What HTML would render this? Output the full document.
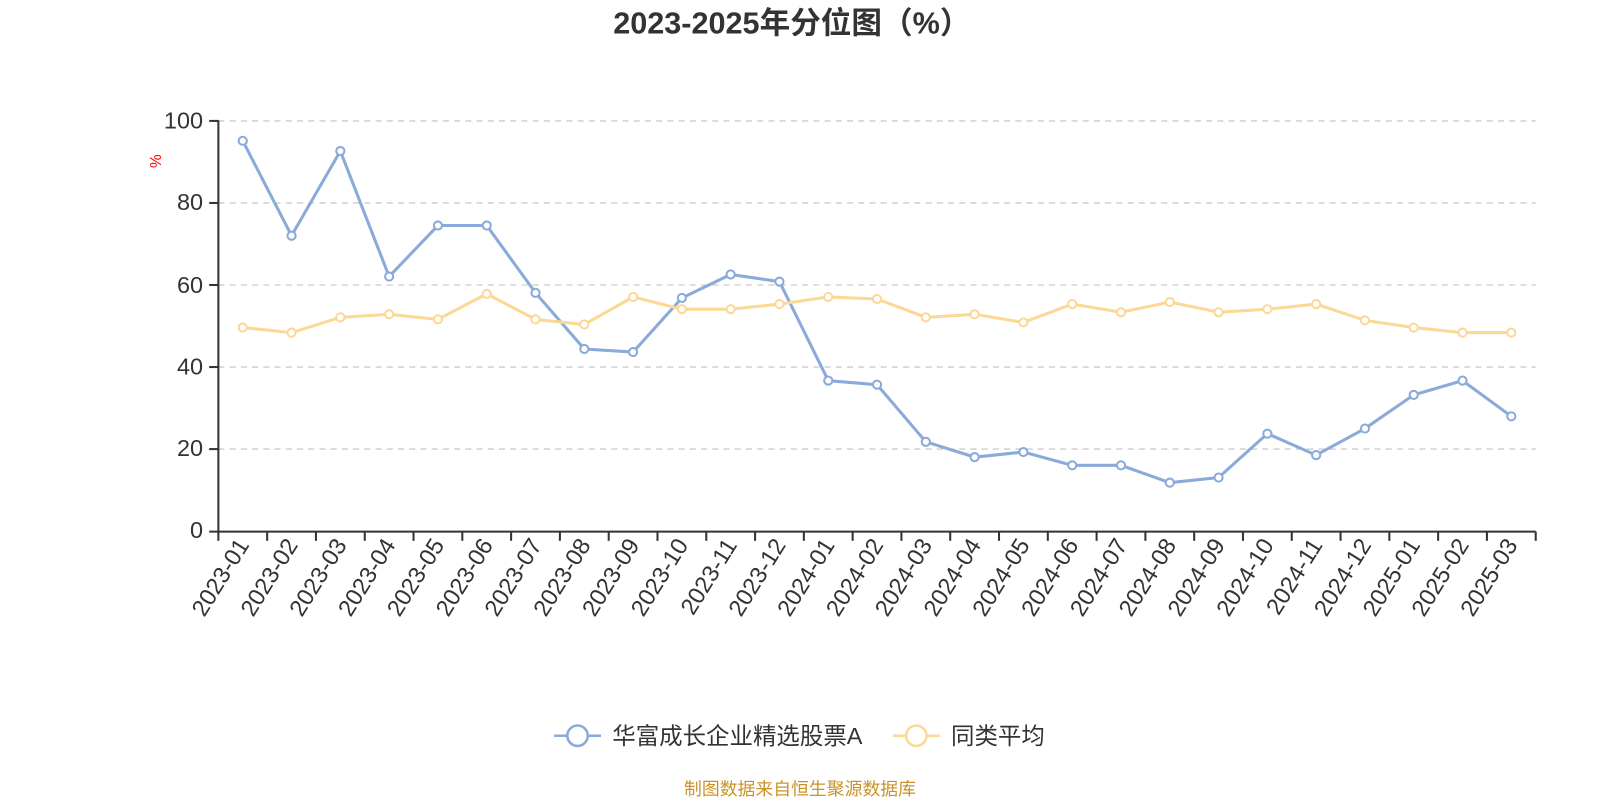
<!DOCTYPE html>
<html><head><meta charset="utf-8"><style>
body{margin:0;background:#fff;}
svg{display:block}
svg text{font-family:"Liberation Sans","Noto Sans CJK SC",sans-serif;}
</style></head><body>
<svg width="1600" height="800" viewBox="0 0 1568 784" xmlns="http://www.w3.org/2000/svg">
<text x="776" y="33" text-anchor="middle" font-size="30" font-weight="bold" fill="#333">2023-2025年分位图（%）</text>
<g stroke="#ccc" stroke-dasharray="6,5" stroke-width="1.3">
<line x1="214" x2="1505" y1="118.5" y2="118.5"/>
<line x1="214" x2="1505" y1="198.9" y2="198.9"/>
<line x1="214" x2="1505" y1="279.3" y2="279.3"/>
<line x1="214" x2="1505" y1="359.7" y2="359.7"/>
<line x1="214" x2="1505" y1="440.1" y2="440.1"/>
</g>
<g stroke="#333" stroke-width="2">
<line x1="214" x2="214" y1="118" y2="521"/>
<line x1="205" x2="1505" y1="521" y2="521"/>
<line x1="205" x2="214" y1="118.5" y2="118.5"/>
<line x1="205" x2="214" y1="198.9" y2="198.9"/>
<line x1="205" x2="214" y1="279.3" y2="279.3"/>
<line x1="205" x2="214" y1="359.7" y2="359.7"/>
<line x1="205" x2="214" y1="440.1" y2="440.1"/>
</g>
<g font-size="23" fill="#333" text-anchor="end">
<text x="199" y="126">100</text><text x="199" y="206">80</text><text x="199" y="287">60</text><text x="199" y="367">40</text><text x="199" y="447">20</text><text x="199" y="527">0</text>
</g>
<text x="158" y="158" font-size="15" fill="red" transform="rotate(-90 158 158)" text-anchor="middle">%</text>
<g id="ticks" stroke="#333" stroke-width="2"></g>
<g id="labels" font-size="23" fill="#333" text-anchor="end"></g>
<polyline id="pb" fill="none" stroke="#8aaad9" stroke-width="3"/>
<polyline id="py" fill="none" stroke="#fcd896" stroke-width="3"/>
<g id="dots"></g>
<line x1="543" x2="589" y1="721" y2="721" stroke="#8aaad9" stroke-width="2.5"/>
<circle cx="566" cy="721" r="10" fill="#fff" stroke="#8aaad9" stroke-width="2.5"/>
<text x="600" y="729" font-size="23" fill="#333">华富成长企业精选股票A</text>
<line x1="875" x2="921" y1="721" y2="721" stroke="#fcd896" stroke-width="2.5"/>
<circle cx="898" cy="721" r="10" fill="#fff" stroke="#fcd896" stroke-width="2.5"/>
<text x="932" y="729" font-size="23" fill="#333">同类平均</text>
<text x="784" y="779" font-size="17.5" fill="#c8942a" text-anchor="middle">制图数据来自恒生聚源数据库</text>
</svg>
<script>
var B=[138,231,148,271,221,221,287,342,345,292,269,276,373,377,433,448,443,456,456,473,468,425,446,420,387,373,408];
var Y=[321,326,311,308,313,288,313,318,291,303,303,298,291,293,311,308,316,298,306,296,306,303,298,314,321,326,326];
var ns="http://www.w3.org/2000/svg";
var w=(1505-214)/27;
function X(i){return 214+w/2+i*w;}
var t=document.getElementById('ticks'),l=document.getElementById('labels'),d=document.getElementById('dots');
for(var i=0;i<=27;i++){var e=document.createElementNS(ns,'line');var x=214+i*w;e.setAttribute('x1',x);e.setAttribute('x2',x);e.setAttribute('y1',521);e.setAttribute('y2',530);t.appendChild(e);}
var m=['01','02','03','04','05','06','07','08','09','10','11','12'];
for(var i=0;i<27;i++){var yr=2023+Math.floor(i/12);var s=yr+'-'+m[i%12];var x=X(i)+7,y=534;var e=document.createElementNS(ns,'text');e.setAttribute('x',x);e.setAttribute('y',y);e.setAttribute('transform','rotate(-58 '+x+' '+y+')');e.textContent=s;l.appendChild(e);}
document.getElementById('pb').setAttribute('points',B.map(function(v,i){return X(i)+','+v}).join(' '));
document.getElementById('py').setAttribute('points',Y.map(function(v,i){return X(i)+','+v}).join(' '));
[[Y,'#fcd896'],[B,'#8aaad9']].forEach(function(p){p[0].forEach(function(v,i){var c=document.createElementNS(ns,'circle');c.setAttribute('cx',X(i));c.setAttribute('cy',v);c.setAttribute('r',4);c.setAttribute('fill','#fff');c.setAttribute('stroke',p[1]);c.setAttribute('stroke-width',2);d.appendChild(c);});});
</script>
</body></html>
